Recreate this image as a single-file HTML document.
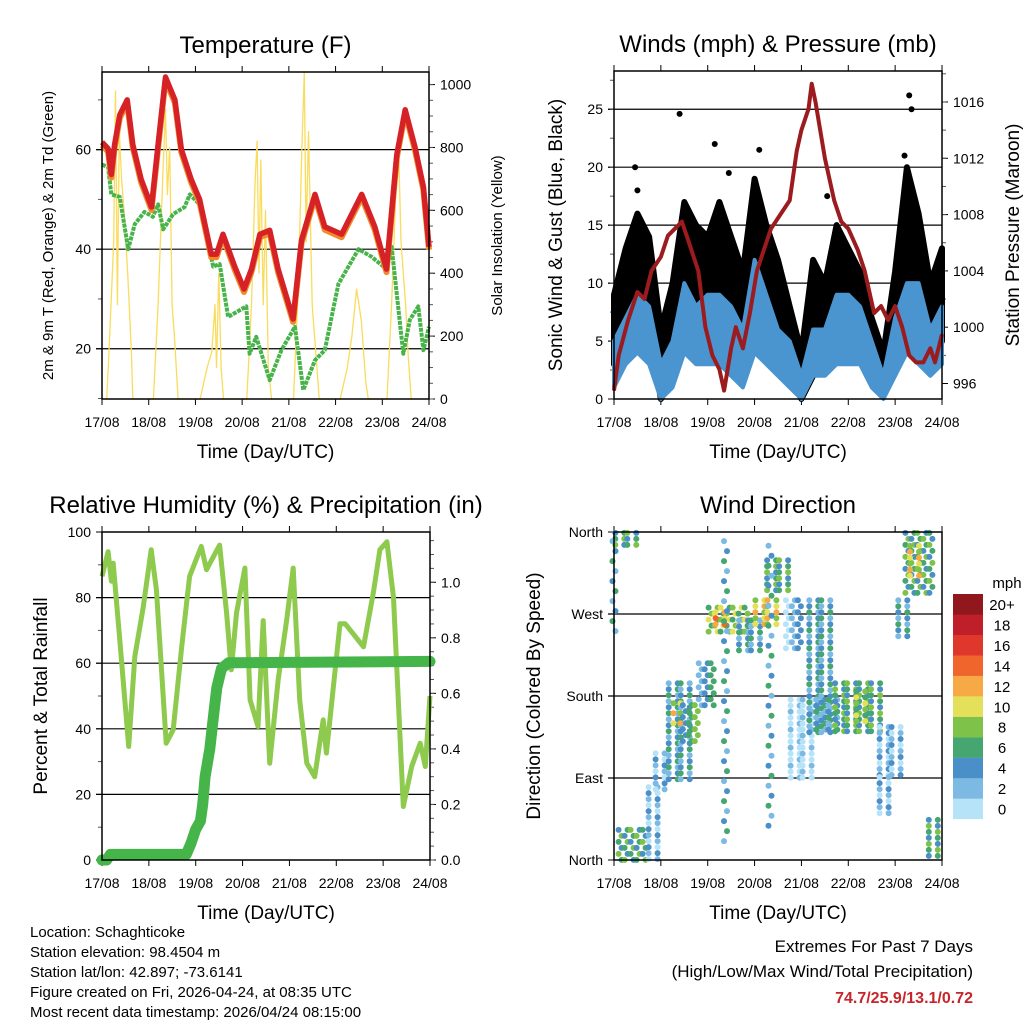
<!DOCTYPE html>
<html><head><meta charset="utf-8"><style>
html,body{margin:0;padding:0;background:#fff}
svg{display:block;font-family:"Liberation Sans",sans-serif}
</style></head><body>
<svg id="s" width="1024" height="1024" viewBox="0 0 1024 1024" xmlns="http://www.w3.org/2000/svg">
<rect width="1024" height="1024" fill="#fff"/>
<g id="g"></g>
<g font-size="15" fill="#000">
<text x="30" y="937">Location: Schaghticoke</text>
<text x="30" y="957">Station elevation: 98.4504 m</text>
<text x="30" y="977">Station lat/lon: 42.897; -73.6141</text>
<text x="30" y="997">Figure created on Fri, 2026-04-24, at 08:35 UTC</text>
<text x="30" y="1017">Most recent data timestamp: 2026/04/24 08:15:00</text>
</g>
<g text-anchor="end">
<text x="973" y="952" font-size="17">Extremes For Past 7 Days</text>
<text x="973" y="977" font-size="17">(High/Low/Max Wind/Total Precipitation)</text>
<text x="973" y="1003" font-size="16" font-weight="bold" fill="#c8242b">74.7/25.9/13.1/0.72</text>
</g>
</svg>
<script>
const dayLabels=["17/08","18/08","19/08","20/08","21/08","22/08","23/08","24/08"];
// Temperature
const tempT=[0,0.13,0.2,0.27,0.38,0.54,0.66,0.84,1.06,1.2,1.36,1.56,1.7,1.91,2.09,2.34,2.45,2.59,2.84,3.04,3.2,3.38,3.59,3.77,4.09,4.27,4.56,4.77,5.13,5.56,5.84,6.09,6.31,6.49,6.7,6.88,7];
const tempV=[61.5,60.2,55,61,67,70,61,54,48.5,61,74.6,70,60,54,50,39,39,43,36.5,32,36,43,43.8,36,26,41.8,51,44.5,43,51,44.5,36,59,68,60.5,52.5,40.5];
const dewT=[0,0.13,0.2,0.38,0.56,0.7,0.91,1.09,1.2,1.31,1.52,1.77,1.88,2.09,2.38,2.52,2.7,3.09,3.16,3.3,3.59,3.84,4.13,4.31,4.56,4.77,5.06,5.49,5.77,6.09,6.2,6.45,6.59,6.77,6.88,7];
const dewV=[57,56.5,51,50.5,40,45,47.5,46.5,49,44,47,48.5,51,49,36.5,37,26.4,28.5,19,22.4,13.7,19.7,24.4,11.7,17.7,19.7,33,40,38.5,36,40.5,19,25.8,28.5,19.7,24.4];
const solarT=[0.1,0.15,0.25,0.29,0.33,0.37,0.42,0.47,0.55,0.63,0.66,1.1,1.2,1.3,1.36,1.4,1.45,1.5,1.55,1.63,2.1,2.25,2.35,2.42,2.45,2.5,2.55,2.6,3.1,3.2,3.28,3.32,3.36,3.4,3.45,3.5,3.56,3.63,4.1,4.2,4.28,4.33,4.37,4.42,4.5,4.6,4.65,5.1,5.25,5.35,5.45,5.55,5.65,5.7,6.1,6.2,6.3,6.35,6.4,6.5,6.55,6.62];
const solarV=[0,150,500,980,300,850,700,600,400,150,0,0,300,700,920,650,800,300,200,0,0,100,150,300,100,400,100,0,0,300,700,820,400,760,300,600,100,0,0,350,800,1040,500,850,300,100,0,0,100,200,350,250,50,0,0,300,700,800,500,300,150,0];
// Winds
const windT=[0,0.25,0.5,0.75,1,1.25,1.5,1.75,2,2.25,2.5,2.75,3,3.25,3.5,3.75,4,4.25,4.5,4.75,5,5.25,5.5,5.75,6,6.25,6.5,6.75,7];
const gustHigh=[9,13,16,14,6,10,17,15,14,17,14,11,19,15,12,8,4,12,10,15,13,11,7,4,11,20,16,10,13];
const gustLow=[3,6,8,6,0,2,6,6,4,6,5,3,8,6,5,2,0,2,3,5,5,5,2,1,3,7,5,3,5];
const windHigh=[5,7,9,8,3,5,10,8,9,9,8,6,12,9,6,5,2,6,6,9,9,8,5,2,7,10,10,6,8];
const windLow=[1,3,4,3,0,1,4,3,3,3,2,1,4,3,2,1,0,2,2,3,3,3,1,0,2,4,3,2,3];
const gustOutT=[0.45,0.5,1.4,2.15,2.45,3.1,4.55,6.3,6.35,6.2];
const gustOutV=[20,18,24.6,22,19.5,21.5,17.5,26.2,25,21];
const presT=[0,0.1,0.3,0.5,0.65,0.8,1.0,1.15,1.3,1.45,1.6,1.8,1.95,2.1,2.25,2.35,2.5,2.6,2.75,2.9,3.05,3.2,3.35,3.55,3.75,3.9,4.0,4.15,4.22,4.3,4.5,4.7,4.85,5.0,5.2,5.35,5.55,5.7,5.85,6.0,6.15,6.3,6.45,6.6,6.75,6.85,7.0];
const presV=[995.5,998,1000.5,1002.5,1002,1004,1005,1006.5,1007,1007.5,1006,1004,1000,998,997,995.5,998.5,1000,998.5,1001,1004,1005.5,1007,1008,1009,1012.5,1014,1015.5,1017.3,1016,1012,1009,1007.5,1007,1005.5,1004,1001,1001.5,1000.5,1001.5,1000,998,997.5,997.5,998.5,997.5,999.5];
// RH & precip
const rhT=[0,0.13,0.2,0.24,0.38,0.57,0.7,0.88,1.05,1.16,1.37,1.52,1.7,1.87,2.12,2.23,2.51,2.66,2.76,2.87,3.05,3.16,3.33,3.44,3.58,3.76,3.94,4.08,4.22,4.37,4.54,4.72,4.79,5.08,5.19,5.58,5.79,5.93,6.08,6.22,6.43,6.61,6.79,6.9,7];
const rhV=[86.5,94,85,90.5,67,34.6,62,77,94.6,82.4,35.6,39.7,65,86.5,95.6,88.5,96,75.3,58,75.3,89,48.8,40.7,73,29.5,55,73,89,48.8,29.5,25.4,42.7,32.6,72,72,65,81.4,94.6,97,80,16.3,28.5,35.6,28.5,50];
const prT=[0,0.1,0.18,1.8,1.9,2.0,2.1,2.15,2.2,2.3,2.4,2.45,2.55,2.7,7];
const prV=[0,0,0.02,0.02,0.06,0.11,0.14,0.2,0.3,0.4,0.55,0.62,0.69,0.71,0.715];
// Wind direction clusters: time range, direction range (deg), speed (mph)
const dirT0=[0.06,0.13,0.77,0.92,1.2,1.3,1.5,1.84,2.05,2.2,2.7,3.05,3.3,3.7,3.8,4.2,4.35,4.75,5.2,5.7,5.7,6.1,6.25,6.35,6.75,2.38,3.33,0.0];
const dirT1=[0.55,0.7,0.98,1.15,1.6,1.42,1.8,2.1,2.85,2.4,3.1,3.5,3.7,4.0,4.2,4.6,4.8,5.7,5.4,6.1,5.9,6.25,6.8,6.55,7.0,2.45,3.4,0.06];
const dirD0=[341,0,0,73,88,146,130,168,249,258,227,255,293,227,88,139,139,139,150,88,51,241,289,310,3,20,30,250];
const dirD1=[359,33,80,117,194,172,170,216,277,272,263,285,329,285,176,285,176,194,185,146,91,285,359,345,44,350,345,350];
const dirS=[5,5,2,1,4,10,6,4,8,12,4,10,6,1,0,4,4,6,8,1,2,4,6,10,6,3,4,4];
const speedLevels=["0","2","4","6","8","10","12","14","16","18","20+"];
const speedColors=["#b6e3f8","#7cbae4","#4a8fc7","#45a670","#7ec24a","#e5e05a","#f6a945","#f0652c","#df372b","#bf1f29","#90171c"];

const NS="http://www.w3.org/2000/svg";
const G=document.getElementById('g');
function el(tag,attrs,parent,txt){const e=document.createElementNS(NS,tag);for(const k in attrs)e.setAttribute(k,attrs[k]);if(txt!==undefined)e.textContent=txt;(parent||G).appendChild(e);return e;}
function lin(d0,d1,r0,r1){return v=>r0+(v-d0)/(d1-d0)*(r1-r0);}

function panel(o){
 const g=el('g',{});
 
 
 const x=lin(0,7,o.x0,o.x1),y=lin(o.ymin,o.ymax,o.y1,o.y0);
 const t=el('text',{x:(o.x0+o.x1)/2,y:o.y0-19,'font-size':24,'text-anchor':'middle'},g,o.title);
 
 
 o.grid.forEach(v=>{const l=el('line',{x1:o.x0-6,x2:o.x1,y1:y(v),y2:y(v),stroke:'#000','stroke-width':1.2},g);
  
  });
 o.lt.forEach((v,i)=>{const l=el('line',{x1:o.x0-6,x2:o.x0,y1:y(v),y2:y(v),stroke:'#000'},g);
  
  
  const tx=el('text',{x:o.x0-11,y:y(v)+5,'font-size':14,'text-anchor':'end'},g,o.ll[i]);
  
  });
 (o.lminor||[]).forEach(v=>{const l=el('line',{x1:o.x0-4,x2:o.x0,y1:y(v),y2:y(v),stroke:'#555'},g);
  
  });
 dayLabels.forEach((lab,i)=>{const l=el('line',{x1:x(i),x2:x(i),y1:o.y1,y2:o.y1+6,stroke:'#000'},g);
  
  
  const l2=el('line',{x1:x(i),x2:x(i),y1:o.y0-6,y2:o.y0,stroke:'#000'},g);
  
  
  const tx=el('text',{x:x(i),y:o.y1+28,'font-size':14,'text-anchor':'middle'},g,lab);
  
  });
 const xt=el('text',{x:(o.x0+o.x1)/2,y:o.y1+59,'font-size':19,'text-anchor':'middle'},g,'Time (Day/UTC)');
 
 
 const yt=el('text',{x:0,y:0,'font-size':o.lsize,'text-anchor':'middle',transform:`translate(${o.lx},${(o.y0+o.y1)/2}) rotate(-90)`},g,o.ltitle);
 
 
 let y2=null;
 if(o.rmin!==undefined){
  y2=lin(o.rmin,o.rmax,o.y1,o.y0);
  o.rt.forEach((v,i)=>{const l=el('line',{x1:o.x1,x2:o.x1+6,y1:y2(v),y2:y2(v),stroke:'#000'},g);
   
   
   const tx=el('text',{x:o.x1+11,y:y2(v)+5,'font-size':14},g,o.rl[i]);
   
   });
  (o.rminor||[]).forEach(v=>{const l=el('line',{x1:o.x1,x2:o.x1+4,y1:y2(v),y2:y2(v),stroke:'#555'},g);
   
   });
  const rt=el('text',{x:0,y:0,'font-size':o.rsize,'text-anchor':'middle',transform:`translate(${o.rx},${(o.y0+o.y1)/2}) rotate(-90)`},g,o.rtitle);
  
  
 }
 const plot=el('g',{},g);
 
 
 const frame=()=>{const b=el('rect',{x:o.x0,y:o.y0,width:o.x1-o.x0,height:o.y1-o.y0,fill:'none',stroke:'#000','stroke-width':1.5},g);
  
  };
 return {g:plot,x,y,y2,frame};
}
function pts(T,V,x,y){return T.map((t,i)=>x(t).toFixed(1)+','+y(V[i]).toFixed(1)).join(' ');}
function steps(n,lo,hi){const a=[];for(let v=lo;v<=hi+1e-9;v+=n)a.push(+v.toFixed(3));return a;}

// Panel 1
let P=panel({name:'temperature-chart',title:'Temperature (F)',x0:102,x1:429,y0:72,y1:399,ymin:9.9,ymax:75.6,grid:[20,40,60],lt:[20,40,60],ll:['20','40','60'],lminor:[10,30,50,70],lx:53,ltitle:'2m & 9m T (Red, Orange) & 2m Td (Green)',lsize:15,rmin:0,rmax:1040,rt:[0,200,400,600,800,1000],rl:['0','200','400','600','800','1000'],rminor:steps(50,0,1040),rx:502,rtitle:'Solar Insolation (Yellow)',rsize:15});
let e=el('polyline',{points:pts(solarT,solarV,P.x,P.y2),fill:'none',stroke:'#f9dc5c','stroke-width':1.3,'stroke-linejoin':'round'},P.g);


e=el('polyline',{points:pts(dewT,dewV,P.x,P.y),fill:'none',stroke:'#47b34a','stroke-width':4,'stroke-dasharray':'4 1','stroke-linejoin':'round'},P.g);


e=el('polyline',{points:pts(tempT,tempV.map(v=>v-0.6),P.x,P.y),fill:'none',stroke:'#f08a2a','stroke-width':6,'stroke-linejoin':'round'},P.g);


e=el('polyline',{points:pts(tempT,tempV,P.x,P.y),fill:'none',stroke:'#d62226','stroke-width':5.5,'stroke-linejoin':'round'},P.g);


P.frame();

// Panel 2
P=panel({name:'wind-pressure-chart',title:'Winds (mph) & Pressure (mb)',x0:614,x1:942,y0:71,y1:399,ymin:0,ymax:28.3,grid:[5,10,15,20,25],lt:[0,5,10,15,20,25],ll:['0','5','10','15','20','25'],lminor:steps(2.5,2.5,27.5),lx:562,ltitle:'Sonic Wind & Gust (Blue, Black)',lsize:19,rmin:994.9,rmax:1018.2,rt:[996,1000,1004,1008,1012,1016],rl:['996','1000','1004','1008','1012','1016'],rminor:steps(2,998,1018),rx:1019,rtitle:'Station Pressure (Maroon)',rsize:19});
function band(T,hi,lo,x,y){return T.map((t,i)=>x(t).toFixed(1)+','+y(hi[i]).toFixed(1)).concat(T.slice().reverse().map((t,j)=>x(t).toFixed(1)+','+y(lo[T.length-1-j]).toFixed(1))).join(' ');}
e=el('polygon',{points:band(windT,gustHigh,gustLow,P.x,P.y),fill:'#000',stroke:'#000','stroke-width':6,'stroke-linejoin':'round'},P.g);


gustOutT.forEach((t,i)=>{const c=el('circle',{cx:P.x(t),cy:P.y(gustOutV[i]),r:3,fill:'#000'},P.g);
 
 });
e=el('polygon',{points:band(windT,windHigh,windLow,P.x,P.y),fill:'#4a95d0',stroke:'#4a95d0','stroke-width':4,'stroke-linejoin':'round'},P.g);


e=el('polyline',{points:pts(presT,presV,P.x,P.y2),fill:'none',stroke:'#9b1b1e','stroke-width':4,'stroke-linejoin':'round'},P.g);


P.frame();

// Panel 3
P=panel({name:'humidity-precip-chart',title:'Relative Humidity (%) & Precipitation (in)',x0:102,x1:430,y0:532,y1:860,ymin:0,ymax:100,grid:[20,40,60,80],lt:[0,20,40,60,80,100],ll:['0','20','40','60','80','100'],lminor:[10,30,50,70,90],lx:47,ltitle:'Percent & Total Rainfall',lsize:19,rmin:0,rmax:1.181,rt:[0,0.2,0.4,0.6,0.8,1.0],rl:['0.0','0.2','0.4','0.6','0.8','1.0'],rminor:steps(0.05,0,1.15),rx:470,rtitle:'',rsize:19});
e=el('polyline',{points:pts(rhT,rhV,P.x,P.y),fill:'none',stroke:'#8dca4d','stroke-width':5,'stroke-linejoin':'round'},P.g);


e=el('polyline',{points:pts(prT,prV,P.x,P.y2),fill:'none',stroke:'#45b549','stroke-width':11,'stroke-linejoin':'round','stroke-linecap':'round'},P.g);


P.frame();

// Panel 4
P=panel({name:'wind-direction-chart',title:'Wind Direction',x0:614,x1:942,y0:532,y1:860,ymin:0,ymax:360,grid:[90,180,270],lt:[0,90,180,270,360],ll:['North','East','South','West','North'],lx:540,ltitle:'Direction (Colored By Speed)',lsize:19});
const dy=P.y;
function colorFor(s){return speedColors[Math.max(0,Math.min(10,Math.round(s/2)))];}
dirT0.forEach((t0,i)=>{
 const xa=P.x(t0),xb=P.x(dirT1[i]),ya=dy(dirD1[i]),yb=dy(dirD0[i]);
 const cg=el('g',{},P.g);
 
 
 const narrow=(xb-xa)<6;
 const sx=narrow?4:6,sy=narrow?10:6;
 let k=0;
 for(let yy=ya;yy<=yb+0.1;yy+=sy){for(let xx=xa;xx<=xb+0.1;xx+=sx){
  const c=el('circle',{cx:(xx+((k%2)?1.5:-1.5)).toFixed(1),cy:yy.toFixed(1),r:3,fill:colorFor(dirS[i]+((k%3)-1)*2)},cg);k++;
 }}
});
P.frame();
const cb=el('g',{});


let t=el('text',{x:1007,y:588,'font-size':15,'text-anchor':'middle'},cb,'mph');


speedLevels.forEach((lab,i)=>{const yy=594+(10-i)*20.45;
 const r=el('rect',{x:953,y:yy,width:30,height:20.6,fill:speedColors[i]},cb);
 
 
 const tx=el('text',{x:1002,y:yy+16,'font-size':15,'text-anchor':'middle'},cb,lab);
 
 });
</script>
</body></html>
